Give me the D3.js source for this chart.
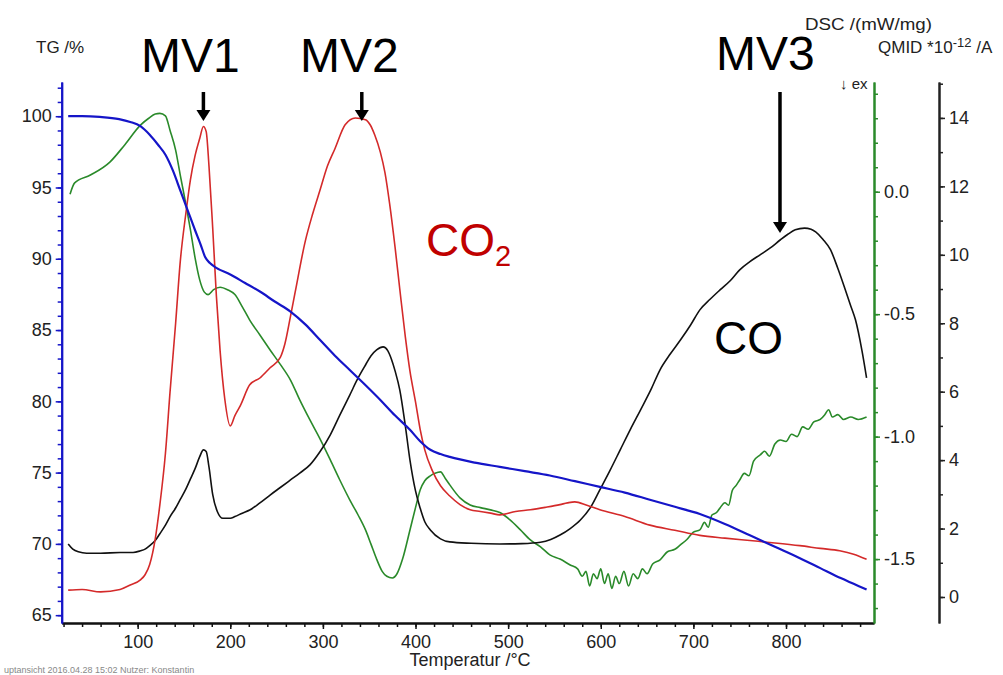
<!DOCTYPE html>
<html><head><meta charset="utf-8">
<script src="https://cdn.jsdelivr.net/npm/d3@7"></script>
<style>
body{margin:0;background:#fff;}
svg{display:block;font-family:"Liberation Sans",Arial,sans-serif;}
</style></head>
<body><svg id="c" width="1003" height="675"></svg>
<script>
// ---- data (temperature °C, value) ----
const tgData = [[25,100.0],[40,100.0],[59,99.95],[80,99.8],[92,99.6],[103,99.3],[113,98.7],[122,98.0],[130,97.3],[138,96.2],[146,94.8],[154,93.4],[162,92.0],[168,91.0],[173,90.1],[178,89.7],[184,89.4],[200,88.9],[216,88.3],[232,87.7],[248,87.0],[265,86.3],[281,85.4],[297,84.3],[313,83.2],[329,82.2],[345,81.2],[362,80.1],[378,79.0],[394,78.0],[405,77.2],[416,76.6],[427,76.3],[437,76.1],[464,75.7],[491,75.4],[518,75.1],[545,74.8],[572,74.4],[599,74.0],[626,73.6],[653,73.1],[680,72.6],[707,72.1],[734,71.4],[761,70.6],[788,69.8],[815,69.0],[837,68.3],[859,67.6],[873,67.2],[887,66.8]];
const dscData = [[27,-0.01],[32,0.036],[49,0.068],[70,0.121],[86,0.191],[103,0.272],[112,0.30],[119,0.317],[124,0.32],[130,0.31],[135,0.25],[141,0.17],[146,0.068],[152,-0.05],[157,-0.156],[162,-0.27],[167,-0.36],[172,-0.41],[176,-0.42],[182,-0.40],[189,-0.39],[197,-0.40],[205,-0.42],[213,-0.47],[221,-0.524],[232,-0.585],[243,-0.646],[254,-0.705],[265,-0.769],[275,-0.85],[286,-0.932],[297,-1.01],[308,-1.095],[318,-1.175],[329,-1.258],[338,-1.32],[346,-1.381],[352,-1.44],[358,-1.50],[364,-1.55],[369,-1.57],[375,-1.577],[380,-1.56],[386,-1.50],[394,-1.381],[400,-1.29],[405,-1.218],[410,-1.18],[416,-1.16],[421,-1.15],[427,-1.144],[432,-1.17],[437,-1.197],[448,-1.25],[459,-1.279],[470,-1.29],[481,-1.299],[491,-1.31],[502,-1.34],[513,-1.38],[524,-1.422],[535,-1.45],[545,-1.483],[556,-1.50],[567,-1.524],[575,-1.54],[580,-1.57],[584,-1.55],[588,-1.61],[592,-1.56],[596,-1.58],[600,-1.54],[604,-1.60],[608,-1.56],[612,-1.62],[616,-1.57],[620,-1.60],[625,-1.55],[630,-1.61],[635,-1.56],[640,-1.58],[645,-1.54],[650,-1.56],[656,-1.52],[664,-1.503],[672,-1.47],[680,-1.46],[686,-1.442],[693,-1.42],[700,-1.39],[707,-1.381],[712,-1.35],[716,-1.37],[720,-1.32],[725,-1.31],[729,-1.29],[734,-1.27],[738,-1.28],[742,-1.22],[746,-1.20],[750,-1.177],[755,-1.15],[760,-1.16],[765,-1.10],[772,-1.075],[777,-1.06],[782,-1.08],[788,-1.03],[794,-1.014],[800,-1.02],[806,-0.99],[812,-1.00],[818,-0.96],[824,-0.97],[830,-0.94],[837,-0.93],[842,-0.91],[846,-0.89],[850,-0.92],[856,-0.91],[862,-0.93],[870,-0.92],[878,-0.93],[887,-0.92]];
const co2Data = [[25,0.2],[40,0.22],[60,0.15],[81,0.22],[92,0.35],[103,0.5],[108,0.65],[113,0.95],[119,1.7],[124,2.7],[130,4.2],[135,6.0],[141,8.0],[146,9.8],[152,11.2],[157,12.2],[162,12.9],[167,13.4],[171,13.75],[174,13.6],[177,12.6],[181,10.8],[185,8.8],[189,7.2],[194,5.8],[200,5.0],[205,5.3],[211,5.6],[221,6.2],[232,6.4],[243,6.7],[254,7.0],[259,7.4],[265,8.2],[270,8.9],[281,10.4],[289,11.2],[297,11.9],[305,12.6],[313,13.1],[324,13.8],[335,14.0],[346,13.95],[351,13.8],[356,13.5],[362,13.0],[367,12.4],[372,11.5],[378,10.2],[383,9.0],[389,7.6],[394,6.6],[400,5.7],[405,4.9],[410,4.3],[418,3.7],[427,3.25],[437,2.95],[448,2.7],[459,2.55],[470,2.5],[481,2.45],[491,2.4],[508,2.5],[524,2.55],[540,2.62],[556,2.7],[564,2.75],[572,2.78],[585,2.68],[599,2.55],[626,2.35],[653,2.1],[680,1.95],[707,1.8],[734,1.72],[761,1.65],[788,1.58],[815,1.5],[837,1.42],[858,1.35],[873,1.25],[887,1.1]];
const coData = [[25,1.55],[30,1.4],[36,1.32],[45,1.28],[60,1.28],[81,1.3],[95,1.3],[103,1.35],[108,1.4],[113,1.5],[119,1.65],[124,1.85],[130,2.1],[135,2.35],[141,2.6],[146,2.85],[152,3.15],[157,3.45],[162,3.75],[167,4.1],[171,4.3],[174,4.25],[177,3.8],[181,3.0],[186,2.5],[192,2.3],[200,2.3],[205,2.35],[213,2.45],[221,2.54],[232,2.75],[243,2.98],[254,3.2],[265,3.42],[275,3.62],[286,3.86],[297,4.25],[308,4.74],[318,5.3],[329,5.9],[338,6.4],[346,6.78],[352,7.05],[358,7.22],[365,7.31],[370,7.2],[374,6.95],[378,6.6],[383,6.05],[389,5.0],[394,4.0],[400,3.1],[405,2.6],[410,2.2],[416,1.96],[427,1.7],[437,1.61],[460,1.57],[491,1.55],[515,1.56],[535,1.6],[546,1.68],[556,1.81],[567,2.0],[578,2.25],[589,2.62],[599,3.13],[610,3.7],[621,4.3],[632,4.9],[643,5.47],[654,6.05],[664,6.64],[675,7.1],[686,7.51],[697,7.95],[707,8.39],[718,8.7],[729,8.98],[740,9.25],[750,9.56],[761,9.8],[772,10.0],[783,10.2],[794,10.44],[802,10.6],[810,10.73],[820,10.78],[827,10.75],[832,10.67],[840,10.45],[848,10.15],[856,9.6],[864,8.98],[870,8.5],[875,8.1],[882,7.2],[887,6.4]];

const tgTicks = [65,70,75,80,85,90,95,100];
const dscTicks = [-1.5,-1.0,-0.5,0.0];
const qmidTicks = [0,2,4,6,8,10,12,14];
const xTicks = [100,200,300,400,500,600,700,800];

// ---- layout ----
const L = 61.7, R = 874, T = 82, B = 623, QX = 939;
const svg = d3.select("#c");
const x = d3.scaleLinear().domain([18, 895]).range([L, R]);
const yTG = d3.scaleLinear().domain([64.45, 102.4]).range([B, T]);
const yDSC = d3.scaleLinear().domain([-1.761, 0.448]).range([B, T]);
const yQ = d3.scaleLinear().domain([-0.76, 15.05]).range([B, T]);

const BLUE = "#1515c8", GREEN = "#2a8a2a", RED = "#d42a2a", BLACK = "#111";
const FS = 18;

function styleAxis(g, color, fs) {
  g.selectAll("path,line").attr("stroke", color).attr("stroke-width", 1.5);
  g.select(".domain").attr("stroke-width", 2);
  g.selectAll("text").attr("fill", "#222").attr("font-size", fs).attr("font-family", '"Liberation Sans",Arial,sans-serif');
}

// x axis
const xMinor = d3.range(20, 881, 20);
svg.append("g").attr("transform", `translate(0,${B})`)
  .call(d3.axisBottom(x).tickValues(xMinor).tickSize(4).tickFormat("").tickSizeOuter(0))
  .call(g => styleAxis(g, "#111", FS));
svg.append("g").attr("transform", `translate(0,${B})`)
  .call(d3.axisBottom(x).tickValues(xTicks).tickSize(6).tickPadding(6).tickFormat(d3.format("d")).tickSizeOuter(0))
  .call(g => styleAxis(g, "#111", FS));

// left TG axis
svg.append("g").attr("transform", `translate(${L},0)`)
  .call(d3.axisLeft(yTG).tickValues(d3.range(65, 103, 1)).tickSize(4).tickFormat("").tickSizeOuter(0))
  .call(g => styleAxis(g, BLUE, FS));
svg.append("g").attr("transform", `translate(${L},0)`)
  .call(d3.axisLeft(yTG).tickValues(tgTicks).tickSize(6).tickPadding(4).tickFormat(d3.format("d")).tickSizeOuter(0))
  .call(g => styleAxis(g, BLUE, FS));

// DSC axis
svg.append("g").attr("transform", `translate(${R},0)`)
  .call(d3.axisRight(yDSC).tickValues(d3.range(-17, 5, 1).map(v => v / 10)).tickSize(4).tickFormat("").tickSizeOuter(0))
  .call(g => styleAxis(g, GREEN, FS));
svg.append("g").attr("transform", `translate(${R},0)`)
  .call(d3.axisRight(yDSC).tickValues(dscTicks).tickSize(6).tickPadding(4).tickFormat(d => d.toFixed(1)).tickSizeOuter(0))
  .call(g => styleAxis(g, GREEN, FS));

// QMID axis
svg.append("g").attr("transform", `translate(${QX},0)`)
  .call(d3.axisRight(yQ).tickValues(d3.range(0, 16, 1)).tickSize(4).tickFormat("").tickSizeOuter(0))
  .call(g => styleAxis(g, "#222", FS));
svg.append("g").attr("transform", `translate(${QX},0)`)
  .call(d3.axisRight(yQ).tickValues(qmidTicks).tickSize(6).tickPadding(4).tickFormat(d3.format("d")).tickSizeOuter(0))
  .call(g => styleAxis(g, "#222", FS));

// curves
svg.append("clipPath").attr("id", "pc").append("rect")
  .attr("x", L + 1).attr("y", T).attr("width", R - L - 2).attr("height", B - T - 1);
const plot = svg.append("g").attr("clip-path", "url(#pc)");
function draw(data, ys, color, w) {
  plot.append("path").datum(data)
    .attr("fill", "none").attr("stroke", color).attr("stroke-width", w).attr("stroke-linejoin", "round")
    .attr("d", d3.line().x(d => x(d[0])).y(d => ys(d[1])).curve(d3.curveMonotoneX));
}
draw(dscData, yDSC, GREEN, 1.6);
draw(coData, yQ, BLACK, 1.6);
draw(co2Data, yQ, RED, 1.6);
draw(tgData, yTG, BLUE, 2.2);

// axis titles
svg.append("text").attr("x", 36).attr("y", 53).attr("font-size", 17).attr("fill", "#222").text("TG /%");
svg.append("text").attr("x", 805).attr("y", 30).attr("font-size", 17).attr("fill", "#222")
  .attr("textLength", 127).attr("lengthAdjust", "spacingAndGlyphs").text("DSC /(mW/mg)");
const q = svg.append("text").attr("x", 878).attr("y", 53).attr("font-size", 17).attr("fill", "#222");
q.append("tspan").text("QMID *10");
q.append("tspan").attr("dy", -6).attr("font-size", 13).text("-12");
q.append("tspan").attr("dy", 6).text(" /A");
svg.append("text").attr("x", 840).attr("y", 89).attr("font-size", 15).attr("fill", "#222").text("↓ ex");
svg.append("text").attr("x", 470).attr("y", 666).attr("text-anchor", "middle").attr("font-size", 18).attr("fill", "#222").text("Temperatur /°C");
svg.append("text").attr("x", 4).attr("y", 673).attr("font-size", 9).attr("fill", "#888").text("uptansicht    2016.04.28 15:02    Nutzer: Konstantin");

// annotations
function big(xp, yp, t, color, fs) {
  return svg.append("text").attr("x", xp).attr("y", yp).attr("font-size", fs).attr("fill", color).text(t);
}
big(141, 72, "MV1", "#000", 48);
big(300, 72, "MV2", "#000", 48);
big(716, 70, "MV3", "#000", 48);
const co2 = svg.append("text").attr("x", 426).attr("y", 256).attr("font-size", 46).attr("fill", "#c00000");
co2.append("tspan").text("CO");
co2.append("tspan").attr("dy", 10).attr("font-size", 29).text("2");
big(714, 354, "CO", "#000", 46);

function arrow(tx, y0, tipY) {
  const xp = x(tx);
  svg.append("line").attr("x1", xp).attr("x2", xp).attr("y1", y0).attr("y2", tipY - 8)
    .attr("stroke", "#000").attr("stroke-width", 3.5);
  svg.append("path").attr("d", `M${xp - 7},${tipY - 11} L${xp + 7},${tipY - 11} L${xp},${tipY} Z`).attr("fill", "#000");
}
arrow(171, 92, 121);
arrow(342, 92, 121);
arrow(793.5, 92, 233);
</script></body></html>
